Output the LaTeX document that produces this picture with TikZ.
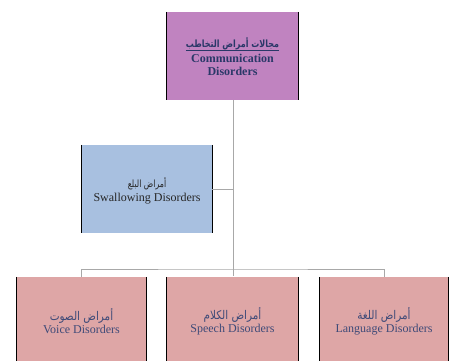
\documentclass[tikz,border=0pt]{standalone}
\usepackage{fontspec}
\usepackage{graphicx}
\setmainfont{Liberation Serif}
\newfontfamily\arabicfont[Script=Arabic]{DejaVu Sans}
\TeXXeTstate=1
\definecolor{topfill}{HTML}{C083C0}
\definecolor{bluefill}{HTML}{A8C0E0}
\definecolor{pinkfill}{HTML}{DEA6A6}
\definecolor{navytext}{HTML}{2A3868}
\definecolor{slatetext}{HTML}{3E4A78}
\definecolor{linegray}{HTML}{A8A8A8}
\newcommand{\artxt}[1]{\scalebox{0.78}[1]{\arabicfont\fontsize{10}{12}\selectfont\beginR #1\endR}}
\newcommand{\arbig}[1]{\scalebox{0.87}[1]{\arabicfont\fontsize{12}{14}\selectfont\beginR #1\endR}}
\newcommand{\myul}[1]{\setbox0\hbox{#1}\rlap{\raisebox{-2.2pt}{\rule{\wd0}{0.6pt}}}\box0}
\tikzset{
  boxnode/.style={rectangle, inner sep=0pt, minimum width=130pt, minimum height=88pt},
  sideedge/.style={draw=black, line width=1.2pt},
  conn/.style={draw=linegray, line width=1pt},
  txt/.style={align=center, inner sep=0pt, font=\fontsize{12}{16}\selectfont}
}
\begin{document}
\begin{tikzpicture}[x=1pt,y=-1pt]
\useasboundingbox (0,0) rectangle (455,361);
% boxes
\node[boxnode, fill=topfill, minimum width=131pt] (top) at (232.5,56) {};
\node[boxnode, fill=bluefill] (swal) at (147,189) {};
\node[boxnode, fill=pinkfill, minimum width=129pt, minimum height=100pt] (voice) at (81.5,327) {};
\node[boxnode, fill=pinkfill, minimum width=131pt, minimum height=100pt] (speech) at (232.5,327) {};
\node[boxnode, fill=pinkfill, minimum width=128pt, minimum height=100pt] (lang) at (384,327) {};
\foreach \n in {top,swal,voice,speech,lang}{
  \draw[sideedge] (\n.north west) -- (\n.south west);
  \draw[sideedge] (\n.north east) -- (\n.south east);
}
% texts
\node[txt, text=navytext] (toptxt) at (232.5,57) {\myul{\scalebox{0.8}[1]{\arabicfont\bfseries\fontsize{10}{12}\selectfont\beginR مجالات أمراض التخاطب\endR}}\\[-1pt]\textbf{Communication}\\[-3pt]\textbf{Disorders}};
\node[txt, text=black!85] (swaltxt) at (147,191) {\artxt{أمراض البلع}\\[-2pt]Swallowing Disorders};
\node[txt, text=slatetext] (voicetxt) at (81.5,321) {\arbig{أمراض الصوت}\\[-3pt]Voice Disorders};
\node[txt, text=slatetext] (speechtxt) at (232.5,321) {\arbig{أمراض الكلام}\\[-3pt]Speech Disorders};
\node[txt, text=slatetext] (langtxt) at (384,321) {\arbig{أمراض اللغة}\\[-3pt]Language Disorders};
% connectors
\coordinate (j1) at (233,189);
\coordinate (j2) at (233,269);
\coordinate (jend) at (233,276);
\draw[conn] (top.south -| j1) -- (jend);
\draw[conn] (j1) -- (swal.east);
\draw[conn] (voice.north) |- (j2) -| (lang.north);
\end{tikzpicture}
\end{document}
